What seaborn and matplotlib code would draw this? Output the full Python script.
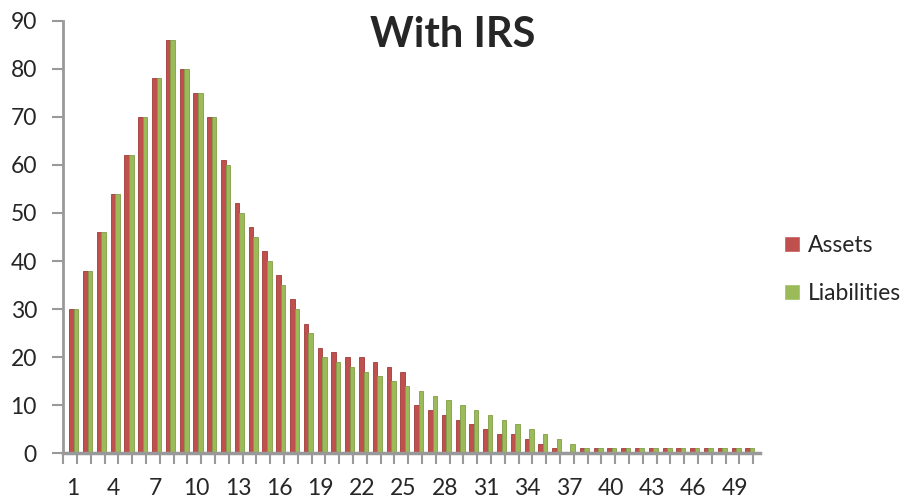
import matplotlib
matplotlib.use("Agg")
import matplotlib.pyplot as plt
import numpy as np
import pandas as pd
import seaborn as sns

# Cash-flow profile by period
periods = list(range(1, 51))
assets = [30, 38, 46, 54, 62, 70, 78, 86, 80, 75,
          70, 61, 52, 47, 42, 37, 32, 27, 22, 21,
          20, 20, 19, 18, 17, 10, 9, 8, 7, 6,
          5, 4, 4, 3, 2, 1, 0, 1, 1, 1,
          1, 1, 1, 1, 1, 1, 1, 1, 1, 1]
liabilities = [30, 38, 46, 54, 62, 70, 78, 86, 80, 75,
               70, 60, 50, 45, 40, 35, 30, 25, 20, 19,
               18, 17, 16, 15, 14, 13, 12, 11, 10, 9,
               8, 7, 6, 5, 4, 3, 2, 1, 1, 1,
               1, 1, 1, 1, 1, 1, 1, 1, 1, 1]
series_names = ["Assets", "Liabilities"]
colors = ["#C0504D", "#9BBB59"]
edge_colors = ["#A03C39", "#819E48"]
y_ticks = list(range(0, 91, 10))
x_label_periods = list(range(1, 51, 3))

df = pd.DataFrame({
    "period": periods * 2,
    "value": assets + liabilities,
    "series": [series_names[0]] * len(periods) + [series_names[1]] * len(periods),
})

sns.set_style("white")
plt.rcParams["font.family"] = ["Lato", "DejaVu Sans"]

fig = plt.figure(figsize=(9.07, 5.01), dpi=100)
ax = fig.add_axes([0.0698, 0.0952, 0.7682, 0.8635])

sns.barplot(data=df, x="period", y="value", hue="series",
            hue_order=series_names, palette=colors, width=0.66,
            saturation=1, ax=ax, legend=True)

# darker outline gives the bars a slight bevel
for container, ec in zip(ax.containers, edge_colors):
    for patch in container:
        patch.set_edgecolor(ec)
        patch.set_linewidth(0.6)

# category boundaries sit a little left of the bar pairs
offset = 0.26
n = len(periods)
ax.set_xlim(-0.5 - offset, n - 0.5 - offset + 0.5)
ax.set_ylim(0, 90)
ax.set_xlabel("")
ax.set_ylabel("")

# y axis
ax.set_yticks(y_ticks)
ax.set_yticklabels([str(v) for v in y_ticks], fontsize=16.5)
ax.tick_params(axis="y", which="major", length=8, width=1.5, color="#999999",
               direction="out", left=True, pad=11)

# x axis: labels every third period, tick marks on category boundaries
label_pos = [periods.index(p) - 0.1 for p in x_label_periods]
ax.set_xticks(label_pos)
ax.set_xticklabels([str(p) for p in x_label_periods], fontsize=16.5)
ax.tick_params(axis="x", which="major", length=0, pad=17.5)
ax.set_xticks(np.arange(-0.5, n, 1.0) - offset, minor=True)
ax.tick_params(axis="x", which="minor", length=8, width=1.5, color="#999999",
               direction="out", bottom=True)

for side in ["top", "right"]:
    ax.spines[side].set_visible(False)
ax.spines["left"].set_color("#999999")
ax.spines["left"].set_linewidth(2)
ax.spines["bottom"].set_color("#999999")
ax.spines["bottom"].set_linewidth(2.5)

fig.text(453 / 907, 1 - 35 / 501, "With IRS", fontsize=30, fontweight="bold",
         ha="center", va="center")

handles, labels = ax.get_legend_handles_labels()
ax.legend(handles, labels, loc="center left", bbox_to_anchor=(0.864, 0.462),
          bbox_transform=fig.transFigure, frameon=False, fontsize=16.5,
          handlelength=0.7, handleheight=0.7, handletextpad=0.35,
          labelspacing=1.2, borderpad=0, borderaxespad=0)

fig.savefig("out.png", dpi=100)
